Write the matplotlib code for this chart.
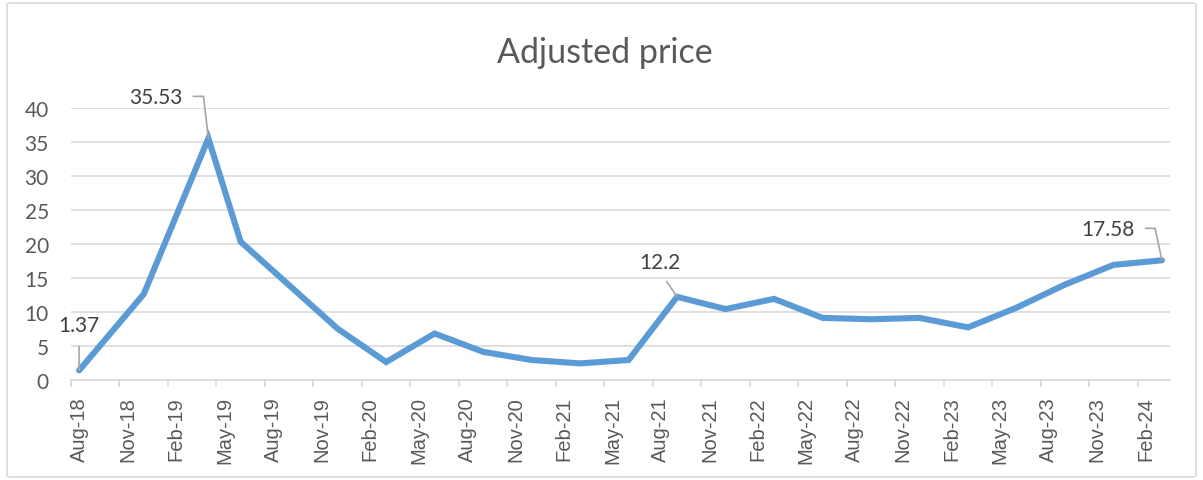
import numpy as np
import pandas as pd
import matplotlib.pyplot as plt
from matplotlib.patches import FancyBboxPatch

# x axis labels, one every 3 months
tick_labels = ['Aug-18', 'Nov-18', 'Feb-19', 'May-19', 'Aug-19', 'Nov-19',
               'Feb-20', 'May-20', 'Aug-20', 'Nov-20', 'Feb-21', 'May-21',
               'Aug-21', 'Nov-21', 'Feb-22', 'May-22', 'Aug-22', 'Nov-22',
               'Feb-23', 'May-23', 'Aug-23', 'Nov-23', 'Feb-24']

# observations (month) and adjusted price
obs_dates = ['2018-08', '2018-12', '2019-04', '2019-06', '2019-12', '2020-03',
             '2020-06', '2020-09', '2020-12', '2021-03', '2021-06', '2021-09',
             '2021-12', '2022-03', '2022-06', '2022-09', '2022-12', '2023-03',
             '2023-06', '2023-09', '2023-12', '2024-03']
prices = [1.37, 12.6, 35.53, 20.3, 7.5, 2.6, 6.8, 4.1, 2.9, 2.4, 2.9, 12.2,
          10.4, 11.9, 9.1, 8.9, 9.1, 7.7, 10.6, 14.0, 16.9, 17.58]

# which points carry a data label
labelled = [0, 2, 11, 21]

start = pd.Period(obs_dates[0], freq='M')
months = np.array([(pd.Period(d, freq='M') - start).n for d in obs_dates])

TXT = '#595959'
GRID = '#D9D9D9'

fig = plt.figure(figsize=(12.03, 4.81), dpi=100)
ax = fig.add_axes([71/1203, 100.3/481, 1099/1203, 271.7/481])

ax.plot(months, prices, color='#5B9BD5', lw=4.4, solid_capstyle='round',
        solid_joinstyle='miter', zorder=3)

ax.set_xlim(-0.5, 67.5)
ax.set_ylim(0, 40)
ax.set_yticks(np.arange(0, 41, 5))
ax.set_xticks(np.arange(0, 3*len(tick_labels), 3))
ax.set_xticklabels(tick_labels, rotation=90)
ax.set_xticks(np.arange(-0.5, 67, 3), minor=True)

ax.grid(axis='y', color=GRID, lw=1.2)
ax.set_axisbelow(True)
for s in ['top', 'right', 'left']:
    ax.spines[s].set_visible(False)
ax.spines['bottom'].set_color(GRID)
ax.spines['bottom'].set_linewidth(1.2)

ax.tick_params(axis='y', length=0, pad=16, labelsize=15, labelcolor=TXT)
ax.tick_params(axis='x', which='major', length=0, pad=12, labelsize=14.5,
               labelcolor=TXT)
ax.tick_params(axis='x', which='minor', length=5, width=1.2, color=GRID)
for t in ax.get_xticklabels():
    t.set_fontfamily('Liberation Sans')
for t in ax.get_yticklabels():
    t.set_fontfamily('Lato')

# data labels with leader lines (offsets in pixels)
offsets = {0: (0, 45), 2: (-53, 41), 11: (-17, 35), 21: (-54, 31)}
styles = {
    0: dict(relpos=(0.5, 0.0), connectionstyle='arc3'),
    2: dict(relpos=(1.0, 0.55), connectionstyle='angle,angleA=0,angleB=96.6'),
    11: dict(relpos=(0.5, 0.0), connectionstyle='arc3'),
    21: dict(relpos=(1.0, 0.55), connectionstyle='angle,angleA=0,angleB=102'),
}
for i in labelled:
    st = styles[i]
    ax.annotate(f'{prices[i]:g}', xy=(months[i], prices[i]),
                xytext=offsets[i], textcoords='offset pixels',
                ha='center', va='center', fontsize=15, color='#404040',
                family='Lato', annotation_clip=False,
                arrowprops=dict(arrowstyle='-', color='#A6A6A6', lw=1.2,
                                shrinkA=6, shrinkB=0, relpos=st['relpos'],
                                connectionstyle=st['connectionstyle']))

fig.text(605/1203, 1 - 63/481, 'Adjusted price', ha='center', va='baseline',
         fontsize=24.5, color=TXT, family='Lato')

border = FancyBboxPatch((7/1203, 3/481), 1189/1203, 474/481,
                        boxstyle='round,pad=0,rounding_size=0.004',
                        transform=fig.transFigure, fill=False,
                        edgecolor=GRID, lw=1.2)
fig.patches.append(border)

fig.savefig('out.png', dpi=100)
